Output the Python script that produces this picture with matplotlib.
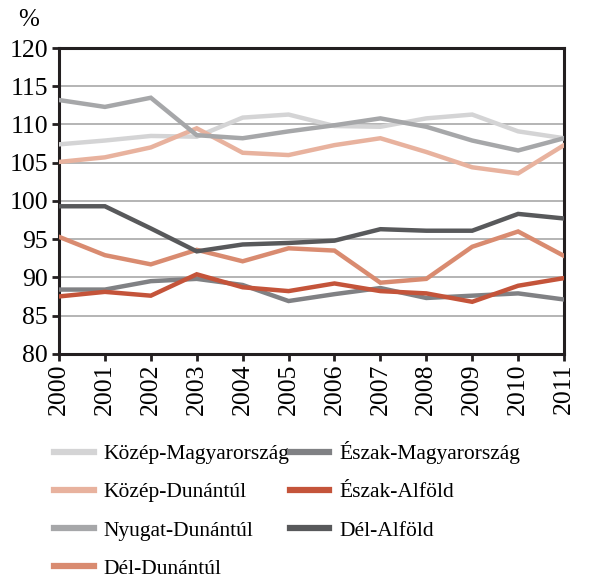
import matplotlib
matplotlib.use("Agg")
import matplotlib.pyplot as plt

years = list(range(2000, 2012))
names = ["Közép-Magyarország", "Közép-Dunántúl", "Nyugat-Dunántúl", "Dél-Dunántúl",
         "Észak-Magyarország", "Észak-Alföld", "Dél-Alföld"]
kozep_magyarorszag = [107.4, 107.9, 108.5, 108.4, 110.9, 111.3, 109.8, 109.7, 110.8, 111.3, 109.1, 108.2]
kozep_dunantul = [105.1, 105.7, 107.0, 109.5, 106.3, 106.0, 107.3, 108.2, 106.4, 104.4, 103.6, 107.3]
nyugat_dunantul = [113.2, 112.3, 113.5, 108.6, 108.2, 109.1, 109.9, 110.8, 109.7, 107.9, 106.6, 108.2]
del_dunantul = [95.3, 92.9, 91.7, 93.6, 92.1, 93.8, 93.5, 89.3, 89.8, 94.0, 96.0, 92.8]
eszak_magyarorszag = [88.4, 88.4, 89.5, 89.8, 89.0, 86.9, 87.8, 88.6, 87.3, 87.6, 87.9, 87.1]
eszak_alfold = [87.5, 88.1, 87.6, 90.4, 88.7, 88.2, 89.2, 88.2, 87.9, 86.8, 88.9, 89.9]
del_alfold = [99.3, 99.3, 96.4, 93.4, 94.3, 94.5, 94.8, 96.3, 96.1, 96.1, 98.3, 97.7]
series = [kozep_magyarorszag, kozep_dunantul, nyugat_dunantul, del_dunantul,
          eszak_magyarorszag, eszak_alfold, del_alfold]
colors = ["#d4d4d5", "#e8b29e", "#a6a7a9", "#d98b70", "#808184", "#c4543a", "#58595b"]

plt.rcParams['font.family'] = ['Liberation Serif', 'DejaVu Serif']
fig = plt.figure(figsize=(5.9, 5.79), dpi=100)
ax = fig.add_axes([0.1, 0.389, 0.856, 0.528])

for vals, c, n in zip(series, colors, names):
    ax.plot(years, vals, color=c, lw=3.2, label=n, solid_joinstyle='miter', zorder=3)

ax.set_xlim(2000, 2011)
ax.set_ylim(80, 120)
ax.set_yticks(range(80, 121, 5))
ax.set_xticks(years)
ax.set_xticklabels([str(y) for y in years], rotation=90)
ax.yaxis.grid(True, color="#a8a8a8", lw=1.2)
ax.set_axisbelow(True)
for s in ax.spines.values():
    s.set_color("#231f20")
    s.set_linewidth(2.2)
ax.tick_params(axis='both', labelsize=18.5, color="#231f20", width=2, length=5, pad=3)
ax.tick_params(axis='x', pad=2)
fig.text(29/590, 1 - 20/579, "%", fontsize=18, ha='center', va='center')

leg = fig.legend(loc='upper left', bbox_to_anchor=(0.092, 0.238), ncol=2, frameon=False,
                 fontsize=15.5, handlelength=1.85, handletextpad=0.45, columnspacing=0.0,
                 labelspacing=0.84, borderaxespad=0, borderpad=0)
for l in leg.get_lines():
    l.set_linewidth(4.5)

fig.savefig("out.png", dpi=100)
